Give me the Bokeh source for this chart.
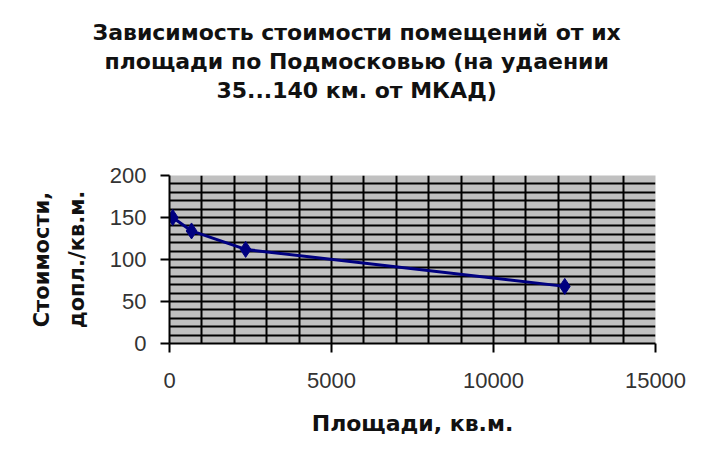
from bokeh.plotting import figure
from bokeh.models import Range1d, FixedTicker, Title
from bokeh.embed import file_html
from bokeh.resources import INLINE

# ---- data ----
area = [100, 680, 2350, 12200]
cost = [150, 134, 112, 68]
x_ticks = [0, 5000, 10000, 15000]
y_ticks = [0, 50, 100, 150, 200]
title_lines = [
    "Зависимость стоимости помещений от их",
    "площади по Подмосковью (на удаении",
    "35...140 км. от МКАД)",
]
y_label_lines = ["Стоимости,", "допл./кв.м."]
x_label = "Площади, кв.м."

W, H = 696, 458
FL, FT, FW, FH = 169, 175, 486, 168
X0, X1, Y0, Y1 = 0, 15000, 0, 200
BOLD_FONT = "DejaVu Sans"

p = figure(width=W, height=H, output_backend="svg", toolbar_location=None,
           x_range=Range1d(X0, X1), y_range=Range1d(Y0, Y1),
           min_border_left=FL, min_border_top=FT,
           min_border_right=W - FL - FW, min_border_bottom=H - FT - FH)
p.frame_width = FW
p.frame_height = FH
p.background_fill_color = "#c0c0c0"
p.border_fill_color = "white"
p.outline_line_color = None

# spacer between the plot area and the title block
p.add_layout(Title(text=" ", standoff=59, text_font_size="10px"), "above")
# title: three centred lines (added from the line nearest the plot outward)
title_offsets = [-77, -65, 47]
for line, off in reversed(list(zip(title_lines, title_offsets))):
    p.add_layout(Title(text=line, align="left", offset=off, standoff=2,
                       text_font=BOLD_FONT, text_font_style="bold",
                       text_font_size="22px", text_color="#111111"), "above")

# grid
p.xgrid.ticker = FixedTicker(ticks=list(range(0, 15000, 1000)))
p.ygrid.ticker = FixedTicker(ticks=list(range(10, 201, 10)))
for g in (p.xgrid, p.ygrid):
    g.grid_line_color = "black"
    g.grid_line_width = 2
    g.grid_line_alpha = 1.0

# axes
for ax in (p.xaxis, p.yaxis):
    ax.axis_line_color = "black"
    ax.axis_line_width = 2
    ax.major_tick_line_color = "black"
    ax.major_tick_line_width = 2
    ax.major_tick_in = 0
    ax.major_tick_out = 9
    ax.minor_tick_line_color = None
    ax.major_label_text_font = "Liberation Sans"
    ax.major_label_text_font_size = "22px"
    ax.major_label_text_color = "#333333"
    ax.axis_label_text_font = BOLD_FONT
    ax.axis_label_text_font_style = "bold"
    ax.axis_label_text_color = "#111111"
p.xaxis.ticker = FixedTicker(ticks=x_ticks)
p.yaxis.ticker = FixedTicker(ticks=y_ticks)
p.xaxis.major_label_standoff = 20
p.yaxis.major_label_standoff = 14
p.xaxis.axis_label = x_label
p.xaxis.axis_label_text_font_size = "22px"
p.yaxis.axis_label = "\n".join(y_label_lines)
p.yaxis.axis_label_text_font_size = "21px"
p.xaxis.axis_label_standoff = 20
p.yaxis.axis_label_standoff = 18
p.yaxis.axis_label_text_line_height = 1.45

# data
p.line(area, cost, line_color="#000080", line_width=3)
p.scatter(area, cost, marker="diamond", size=16, fill_color="#000080",
          line_color="#000080")

open("out.html", "w").write(file_html(p, INLINE))
